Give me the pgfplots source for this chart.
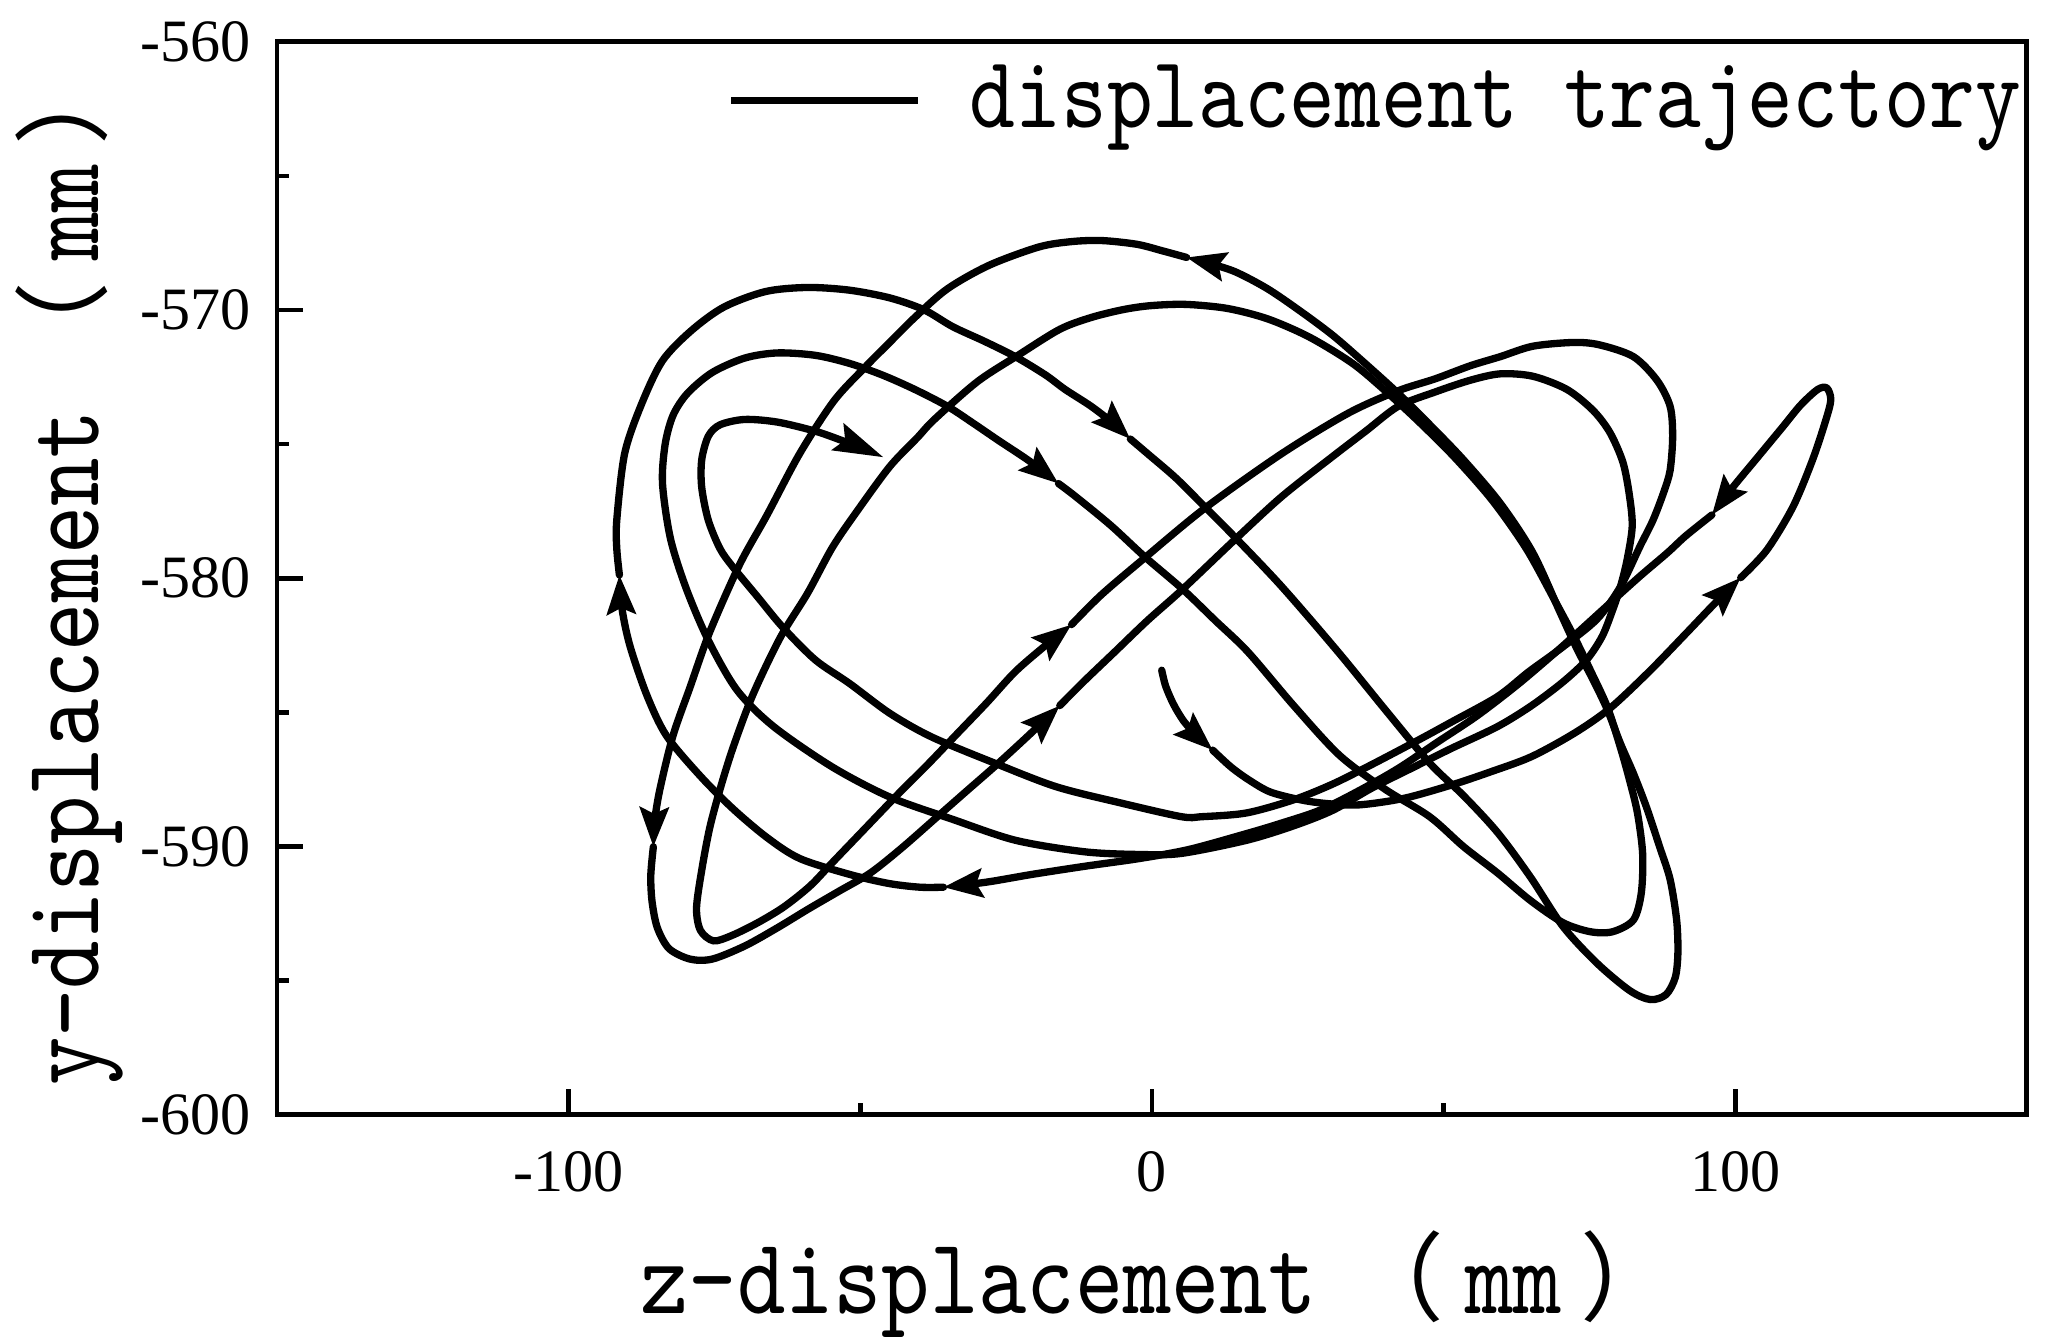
\documentclass[border=0pt]{standalone}
\usepackage{fontspec}
\setmainfont{Liberation Serif}
\newfontfamily\labelfont[FakeStretch=0.85]{lmmono10-regular.otf}
\newfontfamily\cjk{Noto Sans CJK SC}
\usepackage{pgfplots}
\pgfplotsset{compat=1.18}
\usetikzlibrary{arrows.meta}

\pgfplotsset{
  traj/.style={black, line width=1.4pt, line cap=round, line join=round, smooth, forget plot,
    -{Stealth[length=7.5pt,width=5.5pt,inset=1.2pt,sharp]}},
}
\newcommand{\mmunit}{\hspace{6pt}{\cjk\fontsize{18.5}{20}\selectfont （}\hspace{4pt}mm\hspace{3.5pt}{\cjk\fontsize{18.5}{20}\selectfont ）}}

\begin{document}
\begin{tikzpicture}
\begin{axis}[
  scale only axis, width=334.75pt, height=205.25pt,
  xmin=-150, xmax=150, ymin=-600, ymax=-560,
  xtick={-100,0,100}, xticklabels={-100,0,100},
  minor xtick={-50,50},
  ytick={-600,-590,-580,-570,-560},
  yticklabels={-600,-590,-580,-570,-560},
  minor ytick={-595,-585,-575,-565},
  tick pos=left, tick align=inside,
  major tick length=5pt, minor tick length=2.3pt,
  tick style={black, line width=0.9pt},
  axis line style={line width=0.9pt},
  ticklabel style={font=\fontsize{11.5}{13}\selectfont},
  xticklabel style={yshift=-3.5pt},
  yticklabel style={xshift=-1.5pt},
  xlabel={z-displacement\mmunit},
  ylabel={y-displacement\mmunit},
  label style={font=\fontsize{20.7}{22}\labelfont},
  xlabel style={at={(axis description cs:0.1972,-0.1851)}, anchor=base west},
  ylabel style={at={(axis description cs:-0.1023,0.0097)}, anchor=base west},
  legend style={draw=none, fill=none, at={(axis description cs:1.0065,0.9452)},
    anchor=east, font=\fontsize{19.6}{21}\labelfont, nodes={inner sep=0pt}},
  legend image code/.code={\draw[#1] (0pt,0pt) -- (35.75pt,0pt); \path (45pt,0pt);},
]
\addlegendimage{black, line width=1.4pt}
\addlegendentry{displacement trajectory}

% start
\addplot[traj] coordinates {
(1.68,-583.43) (2.35,-584.02) (3.70,-584.70) (5.49,-585.34) (7.73,-585.87) (10.42,-586.41)};
\addplot[traj] coordinates {
(10.42,-586.41) (13.56,-587.04) (16.69,-587.53) (20.28,-587.97) (25.43,-588.26)
(29.91,-588.40) (35.51,-588.45) (43.13,-588.21) (51.20,-587.72) (57.92,-587.23)
(65.09,-586.65) (72.48,-585.77) (78.53,-584.85) (85.25,-583.48) (91.53,-582.07)
(96.23,-581.00) (100.94,-579.98)};
\addplot[traj] coordinates {
(100.94,-579.98) (105.42,-578.95) (109.90,-577.34) (113.26,-575.59) (115.50,-574.13)
(116.39,-573.35) (115.72,-572.91) (114.16,-572.96) (111.24,-573.54) (108.11,-574.37)
(103.85,-575.49) (99.59,-576.61) (96.01,-577.64)};
\addplot[traj] coordinates {
(96.01,-577.64) (91.53,-578.42) (88.39,-579.05) (83.91,-579.88) (79.65,-580.71)
(72.26,-582.17) (68.22,-582.95) (62.40,-584.02) (55.68,-585.14) (48.96,-586.11)
(42.23,-587.09) (35.51,-587.92) (28.79,-588.65) (22.07,-589.14) (16.24,-589.52)
(6.39,-590.11) (-2.13,-590.45) (-11.54,-590.74) (-20.50,-591.04) (-28.34,-591.33)
(-35.74,-591.52)};
\addplot[traj] coordinates {
(-35.74,-591.52) (-39.77,-591.52) (-45.15,-591.38) (-51.87,-591.04) (-60.38,-590.45)
(-65.98,-589.67) (-71.81,-588.60) (-77.41,-587.38) (-83.24,-585.87) (-86.60,-584.36)
(-89.51,-582.51) (-90.85,-581.14) (-91.30,-579.88)};
\addplot[traj] coordinates {
(-91.30,-579.88) (-91.75,-578.90) (-91.75,-577.83) (-90.40,-575.35) (-87.49,-573.50)
(-83.91,-571.89) (-78.98,-570.77) (-73.38,-569.89) (-66.21,-569.31) (-59.04,-569.16)
(-51.87,-569.26) (-44.92,-569.55) (-39.10,-569.99) (-34.17,-570.62) (-28.79,-571.16)
(-23.41,-571.74) (-18.26,-572.42) (-14.90,-572.96) (-10.42,-573.59) (-6.61,-574.23)
(-3.70,-574.81)};
\addplot[traj] coordinates {
(-3.70,-574.81) (-0.78,-575.35) (4.14,-576.27) (9.07,-577.34) (14.23,-578.47)
(22.29,-580.32) (31.93,-582.75) (39.99,-584.90) (47.61,-586.89) (53.44,-588.11)
(59.26,-589.48) (64.86,-591.13) (70.46,-592.98) (76.29,-594.35) (81.89,-595.37)
(85.48,-595.71) (88.16,-595.52) (89.73,-594.88) (90.18,-593.96) (89.96,-592.74)
(88.84,-591.23) (87.04,-590.01) (84.81,-588.55) (82.56,-587.28) (80.32,-586.16)
(78.08,-584.90) (75.62,-583.78) (72.93,-582.66) (70.02,-581.29) (65.31,-579.05)
(59.71,-577.20) (53.44,-575.59) (48.06,-574.37) (42.23,-573.11) (35.51,-571.79)
(30.81,-570.91) (25.43,-570.04) (19.83,-569.21) (14.23,-568.57) (9.30,-568.23)
(5.94,-568.04)};
\addplot[traj] coordinates {
(5.94,-568.04) (1.90,-567.80) (-2.58,-567.55) (-8.63,-567.41) (-13.78,-567.45)
(-19.38,-567.65) (-27.89,-568.33) (-35.06,-569.21) (-40.67,-570.28) (-45.15,-571.25)
(-49.40,-572.18) (-54.56,-573.40) (-60.38,-575.35) (-65.98,-577.64) (-70.69,-579.49)
(-75.84,-582.02) (-79.20,-584.07) (-82.11,-585.87) (-84.36,-587.87) (-85.25,-589.04)
(-85.48,-590.01)};
\addplot[traj] coordinates {
(-85.48,-590.01) (-85.92,-591.08) (-85.70,-592.06) (-84.80,-593.03) (-82.79,-593.81)
(-79.20,-594.20) (-75.39,-594.20) (-69.79,-593.71) (-64.19,-593.03) (-59.04,-592.35)
(-53.66,-591.67) (-48.28,-590.99) (-42.91,-590.06) (-37.30,-588.99) (-31.70,-587.92)
(-26.55,-586.94) (-20.95,-585.82) (-15.80,-584.75)};
\addplot[traj] coordinates {
(-15.80,-584.75) (-11.54,-583.82) (-6.39,-582.75) (-0.78,-581.58) (5.27,-580.41)
(14.23,-578.56) (22.29,-576.95) (30.81,-575.49) (36.63,-574.52) (42.23,-573.59)
(48.51,-573.06) (54.56,-572.62) (59.71,-572.38) (65.31,-572.47) (71.14,-572.96)
(75.62,-573.74) (78.53,-574.57) (80.77,-575.69) (81.89,-576.95) (82.34,-578.08)
(81.44,-579.34) (80.32,-580.32) (78.98,-581.19) (77.19,-582.17) (74.50,-583.05)
(70.46,-583.87) (65.09,-584.75) (59.26,-585.53) (51.20,-586.36) (44.47,-587.09)
(37.75,-587.82) (31.03,-588.65) (24.31,-589.23) (16.24,-589.77) (5.04,-590.26)
(-2.13,-590.30) (-11.54,-590.20) (-23.41,-589.77) (-34.17,-588.99) (-44.92,-588.16)
(-54.78,-587.04) (-64.86,-585.53) (-71.14,-584.17) (-76.07,-582.31) (-79.87,-580.37)
(-82.56,-578.51) (-83.91,-576.47) (-83.46,-575.01) (-82.11,-573.93) (-79.65,-573.11)
(-75.39,-572.33) (-69.79,-571.79) (-64.19,-571.60) (-57.69,-571.69) (-51.87,-571.99)
(-46.27,-572.42) (-40.67,-572.96) (-35.06,-573.59) (-30.58,-574.23) (-26.33,-574.86)
(-20.95,-575.64) (-16.02,-576.47)};
\addplot[traj] coordinates {
(-16.02,-576.47) (-13.11,-576.95) (-7.06,-578.03) (-1.23,-579.20) (5.27,-580.41)
(10.87,-581.58) (16.47,-582.75) (24.31,-584.75) (32.15,-586.60) (39.99,-587.87)
(47.61,-588.89) (53.44,-590.01) (59.26,-590.99) (64.86,-592.01) (70.46,-592.84)
(75.17,-593.18) (78.98,-593.18) (82.56,-592.74) (83.91,-591.72) (84.13,-590.26)
(83.24,-588.75) (81.89,-587.53) (80.32,-586.31) (78.08,-584.80) (75.17,-583.43)
(72.48,-582.22) (69.12,-580.85) (64.19,-578.90) (58.36,-577.10) (51.87,-575.49)
(45.59,-574.13) (39.99,-573.01) (34.39,-571.99) (27.00,-571.01) (19.83,-570.33)
(12.88,-569.94) (5.71,-569.79) (-0.34,-569.84) (-5.04,-569.99) (-10.42,-570.28)
(-15.80,-570.72) (-22.97,-571.69) (-29.91,-572.67) (-37.30,-574.08) (-40.22,-574.76)
(-44.92,-575.83) (-50.52,-577.49) (-54.78,-578.85) (-59.04,-580.56) (-63.74,-582.22)
(-68.45,-584.36) (-71.81,-586.31) (-74.05,-587.87) (-75.84,-589.33) (-77.19,-590.89)
(-78.08,-592.30) (-77.41,-593.13) (-75.17,-593.52) (-72.03,-593.32) (-67.55,-592.84)
(-63.07,-592.25) (-58.59,-591.47) (-54.78,-590.60) (-49.18,-589.33) (-43.35,-588.01)
(-38.42,-586.94) (-33.27,-585.77) (-28.34,-584.65) (-23.41,-583.48) (-18.26,-582.51)
(-13.78,-581.73)};
\addplot[traj, -{Stealth[length=9.5pt,width=5.5pt,inset=1.5pt,sharp]}] coordinates {
(-13.78,-581.73) (-8.63,-580.61) (-1.23,-579.24) (9.07,-577.39) (22.29,-575.35)
(33.72,-573.84) (42.23,-573.01) (48.51,-572.57) (54.56,-572.08) (59.71,-571.74)
(65.31,-571.35) (72.26,-571.21) (76.74,-571.30) (82.56,-571.74) (86.59,-572.62)
(88.84,-573.59) (89.28,-574.71) (88.84,-575.98) (87.72,-576.81) (85.92,-577.83)
(83.68,-578.81) (80.32,-580.32) (76.29,-581.53) (70.46,-582.56) (64.64,-583.48)
(59.26,-584.41) (51.20,-585.38) (45.37,-586.07) (37.75,-586.94) (31.03,-587.67)
(24.31,-588.26) (16.24,-588.75) (8.63,-588.89) (5.04,-588.89) (-5.71,-588.36)
(-16.47,-587.77) (-27.00,-586.89) (-37.75,-585.92) (-44.92,-585.04) (-51.87,-583.92)
(-57.69,-583.05) (-63.29,-581.83) (-67.55,-580.71) (-71.81,-579.59) (-74.05,-578.90)
(-76.07,-577.83) (-77.19,-576.61) (-77.19,-575.59) (-76.07,-574.71) (-74.05,-574.28)
(-69.79,-574.08) (-64.19,-574.18) (-57.69,-574.52) (-53.21,-574.86) (-49.63,-575.15)
(-46.04,-575.49)};
\end{axis}
\pgfresetboundingbox
\path (current axis.south west) ++(-53pt,-42.5pt) rectangle ([shift={(4.25pt,8pt)}]current axis.north east);
\end{tikzpicture}
\end{document}
